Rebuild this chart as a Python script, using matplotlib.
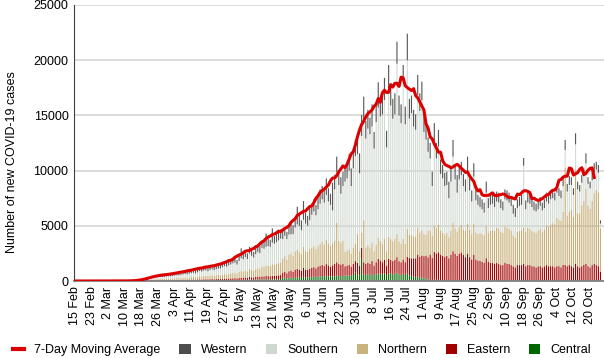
import numpy as np
import pandas as pd
import matplotlib
matplotlib.use("Agg")
import matplotlib.pyplot as plt
from matplotlib.patches import Patch
from matplotlib.lines import Line2D

plt.rcParams["font.family"] = ["Liberation Sans", "DejaVu Sans"]

# daily new cases by region, 15 Feb - 25 Oct
central = [
    0, 0, 0, 0, 0, 0, 0, 0, 0, 0,
    0, 0, 0, 0, 0, 0, 0, 0, 0, 0,
    0, 0, 0, 0, 0, 0, 0, 0, 0, 0,
    1, 2, 4, 5, 8, 9, 12, 14, 17, 19,
    21, 22, 21, 21, 24, 25, 24, 27, 28, 31,
    29, 32, 34, 36, 35, 38, 41, 43, 40, 45,
    48, 46, 50, 52, 48, 54, 56, 52, 58, 60,
    57, 65, 69, 66, 73, 77, 82, 85, 76, 93,
    100, 98, 108, 100, 124, 114, 106, 122, 132, 126,
    140, 136, 150, 148, 144, 150, 158, 164, 172, 180,
    250, 300, 220, 280, 300, 260, 330, 350, 300, 280,
    380, 300, 320, 350, 380, 400, 360, 400, 420, 450,
    400, 480, 420, 380, 420, 450, 500, 450, 430, 460,
    480, 500, 520, 470, 550, 800, 600, 500, 2000, 600,
    550, 600, 550, 650, 500, 600, 700, 650, 600, 700,
    500, 700, 650, 600, 650, 750, 600, 550, 650, 550,
    700, 500, 450, 400, 350, 400, 300, 300, 250, 200,
    150, 100, 80, 120, 100, 100, 90, 80, 70, 70,
    60, 80, 100, 80, 70, 80, 90, 70, 60, 90,
    60, 50, 80, 50, 50, 40, 40, 40, 60, 40,
    50, 50, 40, 50, 50, 40, 40, 50, 50, 40,
    40, 30, 30, 40, 40, 40, 50, 40, 40, 40,
    40, 30, 30, 30, 40, 30, 30, 40, 40, 40,
    40, 40, 40, 40, 40, 50, 50, 40, 50, 40,
    40, 50, 40, 40, 40, 50, 50, 40, 40, 40,
    50, 40, 40, 20,
]
eastern = [
    0, 0, 0, 0, 0, 0, 0, 0, 0, 0,
    0, 0, 0, 0, 0, 0, 0, 0, 0, 0,
    0, 0, 0, 0, 0, 0, 1, 1, 1, 1,
    4, 6, 8, 13, 17, 22, 27, 32, 37, 43,
    47, 51, 46, 49, 53, 56, 54, 59, 63, 68,
    66, 72, 77, 81, 77, 86, 91, 95, 89, 101,
    98, 92, 101, 105, 95, 109, 114, 104, 117, 122,
    115, 130, 138, 132, 146, 154, 164, 170, 152, 186,
    200, 196, 216, 200, 248, 228, 212, 244, 264, 252,
    280, 272, 300, 296, 288, 320, 316, 328, 344, 360,
    500, 550, 480, 600, 650, 560, 700, 750, 700, 650,
    800, 700, 680, 750, 800, 850, 780, 900, 950, 1000,
    950, 1050, 1000, 900, 1000, 1100, 1200, 1100, 1050, 1100,
    850, 900, 950, 800, 1000, 1000, 1050, 900, 1000, 1100,
    1000, 1050, 1000, 1150, 900, 1100, 1300, 1200, 1100, 1200,
    900, 1300, 1250, 1200, 1250, 1400, 1200, 1150, 1300, 1150,
    1500, 1600, 1600, 1650, 1700, 2000, 1900, 2000, 2000, 2100,
    2000, 2300, 2000, 2500, 2400, 2500, 2300, 2200, 2100, 2200,
    2000, 2300, 2600, 2400, 2200, 2400, 2500, 2300, 2100, 2400,
    2100, 1900, 2300, 1900, 1800, 1800, 1700, 1600, 2000, 1700,
    1600, 1600, 1500, 1600, 1500, 1400, 1400, 1600, 1500, 1500,
    1400, 1300, 1200, 1400, 1400, 1400, 1500, 1300, 1400, 1400,
    1300, 1300, 1200, 1300, 1300, 1200, 1300, 1400, 1300, 1300,
    1300, 1200, 1300, 1300, 1200, 1400, 1400, 1300, 1400, 1300,
    1200, 1500, 1300, 1200, 1300, 1400, 1500, 1300, 1200, 1400,
    1500, 1400, 1300, 800,
]
northern = [
    0, 0, 0, 0, 0, 0, 0, 0, 0, 0,
    0, 0, 0, 0, 0, 0, 0, 0, 0, 0,
    0, 0, 0, 1, 1, 2, 2, 2, 3, 4,
    9, 13, 21, 31, 42, 53, 66, 77, 90, 103,
    114, 123, 112, 119, 130, 136, 132, 145, 154, 167,
    161, 176, 187, 198, 189, 209, 222, 233, 218, 246,
    293, 276, 302, 314, 286, 326, 341, 312, 350, 365,
    346, 389, 415, 396, 437, 463, 492, 511, 456, 559,
    600, 563, 621, 575, 713, 655, 609, 701, 759, 724,
    900, 880, 950, 950, 930, 1050, 1000, 1050, 1100, 1150,
    1300, 1400, 1250, 1500, 1550, 1450, 1650, 1750, 1650, 1500,
    1900, 1700, 1650, 1800, 1850, 1900, 1750, 1900, 2000, 2100,
    1950, 2200, 2000, 1900, 2000, 2100, 3600, 2100, 2000, 2100,
    1300, 1350, 1400, 1200, 1500, 1600, 2600, 1300, 1400, 3800,
    1500, 1600, 1500, 1700, 1300, 1600, 1900, 1800, 1700, 1900,
    1300, 2000, 1900, 1800, 1900, 2100, 1800, 1700, 1900, 1700,
    2500, 2100, 2100, 2000, 2000, 2400, 2200, 2300, 2000, 1900,
    2400, 2200, 2000, 2400, 2300, 2500, 2200, 2100, 2000, 2100,
    1900, 2200, 2600, 2300, 2200, 2400, 2500, 2300, 2400, 2700,
    2500, 2300, 2800, 2400, 2400, 2500, 2500, 2500, 2900, 2600,
    2900, 3000, 3000, 3200, 3200, 3000, 2900, 3300, 3300, 3200,
    3100, 2800, 2700, 3000, 3100, 3200, 3300, 3100, 3400, 3300,
    3200, 3100, 3100, 3200, 3400, 3200, 3300, 3600, 3600, 3800,
    3900, 3900, 4400, 4200, 4200, 4800, 8800, 4600, 4800, 5100,
    4600, 8500, 4800, 4900, 5500, 5800, 6800, 5500, 5300, 5800,
    6400, 6800, 6700, 3900,
]
southern = [
    0, 0, 0, 0, 0, 0, 0, 0, 0, 0,
    0, 0, 0, 0, 0, 0, 0, 0, 0, 0,
    1, 1, 2, 2, 3, 4, 5, 7, 9, 12,
    14, 21, 34, 49, 66, 84, 105, 122, 143, 164,
    182, 196, 178, 189, 206, 217, 210, 231, 245, 266,
    255, 280, 297, 315, 301, 332, 353, 371, 346, 392,
    464, 437, 479, 498, 452, 517, 540, 494, 555, 578,
    605, 680, 727, 693, 764, 811, 861, 895, 798, 979,
    1160, 1103, 1215, 1125, 1395, 1283, 1193, 1373, 1485, 1418,
    1680, 1632, 1700, 1776, 1728, 1950, 1896, 1968, 2064, 2160,
    1750, 1850, 1850, 1820, 1730, 1980, 2170, 2280, 2350, 2170,
    2460, 2500, 2350, 2600, 2970, 3150, 3060, 3300, 3630, 3850,
    3800, 4070, 3780, 3720, 2980, 4650, 4560, 5050, 4420, 4940,
    6370, 6550, 7130, 6130, 7150, 7900, 7250, 7060, 8740, 9000,
    9850, 10550, 10250, 10500, 9300, 11100, 11800, 11250, 11700, 12600,
    9400, 13470, 12100, 11100, 11300, 15430, 11400, 10900, 14220, 10800,
    15300, 10500, 11050, 9950, 9650, 12060, 11000, 11750, 9250, 8600,
    7150, 6500, 4520, 7680, 6300, 7080, 5110, 4920, 4430, 4330,
    3540, 4420, 5970, 4420, 3530, 4320, 4510, 3930, 3540, 4770,
    3540, 2950, 4280, 2950, 2650, 2360, 2260, 2060, 3040, 2260,
    2350, 2350, 2160, 2350, 2350, 2160, 2060, 2450, 2450, 2360,
    2260, 1970, 1870, 2160, 2260, 2260, 5590, 2060, 2260, 2260,
    2160, 1970, 1970, 1970, 2060, 1970, 1970, 2160, 2060, 2260,
    2260, 2160, 2260, 2160, 2060, 2350, 1620, 2160, 2450, 2260,
    1960, 2330, 2160, 1960, 2060, 2250, 2310, 1960, 1860, 1860,
    1910, 1860, 1760, 480,
]
western = [
    0, 0, 0, 0, 0, 0, 0, 0, 0, 0,
    0, 0, 0, 0, 0, 0, 0, 0, 0, 0,
    0, 1, 1, 2, 2, 3, 4, 5, 6, 8,
    12, 18, 28, 42, 57, 72, 90, 105, 123, 141,
    156, 168, 153, 162, 177, 186, 180, 198, 210, 228,
    219, 240, 255, 270, 258, 285, 303, 318, 297, 336,
    317, 299, 328, 341, 309, 354, 369, 338, 380, 395,
    317, 356, 381, 363, 400, 425, 451, 469, 418, 513,
    900, 490, 540, 500, 620, 570, 530, 610, 660, 630,
    630, 612, 1200, 666, 648, 1300, 711, 738, 774, 810,
    800, 700, 650, 900, 1100, 800, 900, 1600, 1000, 900,
    1700, 1000, 900, 1100, 1000, 1100, 950, 1100, 1300, 1200,
    1100, 1500, 1200, 1000, 2500, 1300, 1400, 1200, 1500, 1300,
    1300, 1400, 1500, 1600, 1800, 1500, 1700, 1800, 1900, 2200,
    1600, 1700, 1500, 2000, 1500, 1800, 2300, 1900, 1700, 2000,
    1500, 2100, 1900, 1800, 1900, 2000, 1800, 1700, 1500, 1600,
    2400, 1800, 1600, 1500, 1400, 1800, 1600, 1700, 1500, 1400,
    1300, 1400, 1300, 1600, 1400, 1500, 1300, 1200, 1200, 1200,
    1500, 1200, 1500, 1300, 1600, 1200, 1200, 1100, 1100, 1300,
    1100, 1000, 1200, 1000, 900, 900, 900, 900, 1000, 900,
    900, 900, 900, 900, 900, 800, 800, 900, 900, 900,
    900, 800, 800, 800, 800, 900, 700, 800, 900, 900,
    800, 800, 700, 800, 800, 700, 800, 800, 800, 800,
    800, 700, 800, 700, 700, 800, 900, 700, 800, 700,
    600, 1000, 700, 600, 700, 700, 900, 600, 600, 700,
    800, 700, 700, 300,
]

tick_labels = ["15 Feb", "23 Feb", "2 Mar", "10 Mar", "18 Mar", "26 Mar",
               "3 Apr", "11 Apr", "19 Apr", "27 Apr", "5 May", "13 May",
               "21 May", "29 May", "6 Jun", "14 Jun", "22 Jun", "30 Jun",
               "8 Jul", "16 Jul", "24 Jul", "1 Aug", "9 Aug", "17 Aug",
               "25 Aug", "2 Sep", "10 Sep", "18 Sep", "26 Sep", "4 Oct",
               "12 Oct", "20 Oct"]

regions = ["Central", "Eastern", "Northern", "Southern", "Western"]
series = [central, eastern, northern, southern, western]
colors = {"Central": "#006400", "Eastern": "#a00000", "Northern": "#c6ae78",
          "Southern": "#d3dbd3", "Western": "#575757"}
legend_colors = {"Central": "#006600", "Eastern": "#a00000", "Northern": "#c9b27c",
                 "Southern": "#cfd8cf", "Western": "#4d4d4d"}

days = np.arange(len(central))
total = np.sum(np.array(series), axis=0)
ma = pd.Series(total).rolling(7, center=True, min_periods=1).mean()

fig = plt.figure(figsize=(6.04, 3.58), dpi=100)
ax = fig.add_axes([74 / 604, 1 - 281 / 358, 1 - 74 / 604, 276 / 358])

bottom = np.zeros(len(days))
for name, vals in zip(regions, series):
    ax.bar(days, vals, width=0.55, bottom=bottom, color=colors[name],
           linewidth=0, snap=False)
    bottom += np.array(vals)

ax.plot(days[:-3], ma[:-3], color="#dd0000", lw=2.2, zorder=5)

ax.set_ylim(0, 25000)
ax.set_xlim(-0.5, 254.7)
ax.set_yticks(range(0, 25001, 5000))
ax.set_xticks(range(0, 8 * len(tick_labels), 8))
ax.set_xticklabels(tick_labels, rotation=90)
ax.tick_params(axis="both", length=0, labelsize=9, colors="black")
ax.tick_params(axis="y", pad=4)
ax.tick_params(axis="x", pad=4)
ax.yaxis.grid(True, color="#d9d9d9", lw=1.3)
ax.set_axisbelow(True)
for s in ["top", "right"]:
    ax.spines[s].set_visible(False)
ax.spines["left"].set_color("#404040")
ax.spines["bottom"].set_color("#808080")
ax.spines["bottom"].set_linewidth(1.3)

fig.text(12 / 604, 1 - 162 / 358, "Number of new COVID-19 cases", rotation=90,
         ha="center", va="center", fontsize=9)

handles = [Line2D([0], [0], color="#dd0000", lw=3)]
labels = ["7-Day Moving Average"]
for name in ["Western", "Southern", "Northern", "Eastern", "Central"]:
    handles.append(Patch(facecolor=legend_colors[name], edgecolor="none"))
    labels.append(name)
fig.legend(handles, labels, loc="lower center", bbox_to_anchor=(0.5, -0.027), ncol=6,
           frameon=False, fontsize=9, handlelength=0.9, handleheight=0.9,
           columnspacing=1.5, handletextpad=0.8)

fig.savefig("out.png", dpi=100)
